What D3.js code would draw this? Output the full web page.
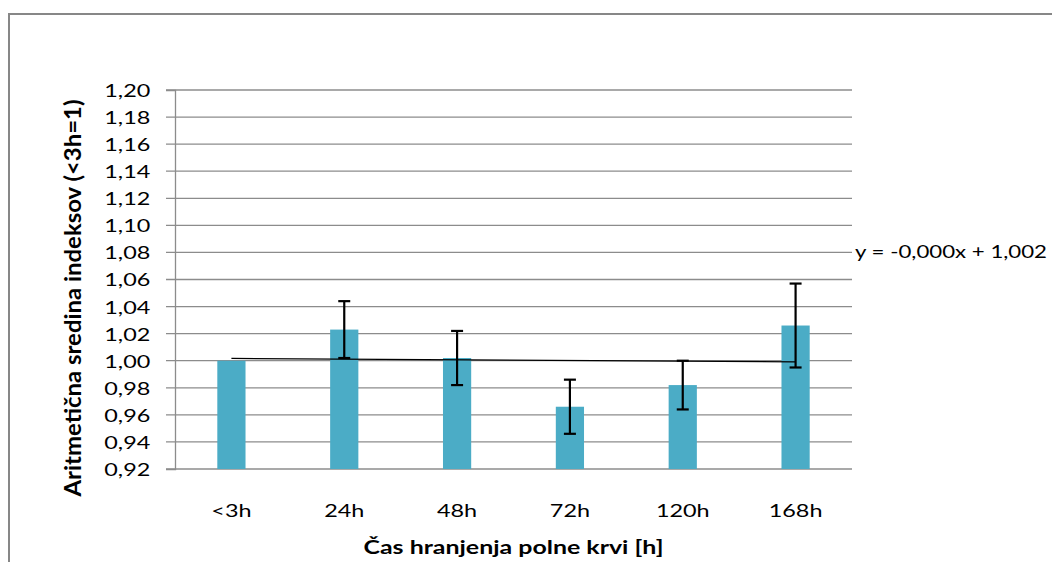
<!DOCTYPE html>
<html lang="sl">
<head>
    <meta charset="UTF-8">
    <title>Čas hranjenja polne krvi</title>
    <script src="https://d3js.org/d3.v7.min.js"></script>
    <style>
        body { margin: 0; background: #fff; }
        text { font-family: Lato, "Open Sans", sans-serif; fill: #000; }
    </style>
</head>
<body>

<svg width="1052" height="562"></svg>
<script>

    // chart values
    var categories = ["<3h", "24h", "48h", "72h", "120h", "168h"];
    var means = [1.000, 1.023, 1.002, 0.966, 0.982, 1.026];
    var errors = [0, 0.021, 0.020, 0.020, 0.018, 0.031];
    var yTicks = [0.92, 0.94, 0.96, 0.98, 1.00, 1.02, 1.04, 1.06, 1.08, 1.10, 1.12, 1.14, 1.16, 1.18, 1.20];
    // linear trend (x = category number 1..6), as Excel printed it
    var trendSlope = -0.0005,
        trendIntercept = 1.0022,
        trendLabel = "y = -0,000x + 1,002";

    var svg = d3.select("svg"),
        margin = {left: 175, right: 200, top: 90, bottom: 93},
        width = +svg.attr("width") - margin.left - margin.right,
        height = +svg.attr("height") - margin.top - margin.bottom,
        stretch = 1.3; // the picture's text is wide, widen ours the same

    // outer frame, cut off at right and bottom like the picture
    svg.append("rect")
        .attr("x", 9).attr("y", 14)
        .attr("width", 1200).attr("height", 700)
        .attr("fill", "none")
        .attr("stroke", "#878787")
        .attr("stroke-width", 2);

    var g = svg.append("g").attr("transform", "translate(" + margin.left + "," + margin.top + ")");

    var x = d3.scaleBand().domain(categories).range([0, width]);
    var y = d3.scaleLinear().domain([0.92, 1.20]).range([height, 0]);
    var fmt = function (d) { return d3.format(".2f")(d).replace(".", ","); };

    // gridlines
    g.selectAll(".grid")
        .data(yTicks)
        .enter().append("line")
        .attr("x1", -9).attr("x2", width)
        .attr("y1", function (d) { return y(d); })
        .attr("y2", function (d) { return y(d); })
        .attr("stroke", "#8c8c8c")
        .attr("stroke-width", 1.3);

    // y axis
    var yAxis = g.append("g")
        .call(d3.axisLeft(y).tickValues(yTicks).tickFormat(fmt).tickSize(9).tickPadding(10));
    yAxis.select(".domain").attr("stroke", "#8c8c8c").attr("stroke-width", 1.3);
    yAxis.selectAll(".tick line").remove();
    yAxis.selectAll("text")
        .style("font-size", "18px")
        .attr("dy", "0.36em")
        .attr("transform", "scale(" + stretch + ",1)");

    // x axis labels
    var xAxis = g.append("g").attr("transform", "translate(0," + height + ")")
        .call(d3.axisBottom(x).tickSize(0).tickPadding(35));
    xAxis.select(".domain").remove();
    xAxis.selectAll("text")
        .style("font-size", "18px")
        .attr("transform", "scale(" + stretch + ",1)");

    // bars
    var barW = x.bandwidth() * 0.25;
    g.selectAll(".bar")
        .data(means)
        .enter().append("rect")
        .attr("x", function (d, i) { return x(categories[i]) + x.bandwidth() / 2 - barW / 2; })
        .attr("y", function (d) { return y(d); })
        .attr("width", barW)
        .attr("height", function (d) { return height - y(d); })
        .attr("fill", "#4bacc6");

    // trend line from first to last category
    var n = categories.length;
    g.append("line")
        .attr("x1", x(categories[0]) + x.bandwidth() / 2)
        .attr("x2", x(categories[n - 1]) + x.bandwidth() / 2)
        .attr("y1", y(trendIntercept + trendSlope * 1))
        .attr("y2", y(trendIntercept + trendSlope * n))
        .attr("stroke", "#000")
        .attr("stroke-width", 1.3);

    // error bars
    var err = g.selectAll(".err")
        .data(means.map(function (m, i) { return {c: categories[i], m: m, e: errors[i]}; })
            .filter(function (d) { return d.e > 0; }))
        .enter().append("g")
        .attr("stroke", "#000")
        .attr("stroke-width", 2.2);
    err.append("line")
        .attr("x1", function (d) { return x(d.c) + x.bandwidth() / 2; })
        .attr("x2", function (d) { return x(d.c) + x.bandwidth() / 2; })
        .attr("y1", function (d) { return y(d.m + d.e); })
        .attr("y2", function (d) { return y(d.m - d.e); });
    [1, -1].forEach(function (s) {
        err.append("line")
            .attr("x1", function (d) { return x(d.c) + x.bandwidth() / 2 - 6; })
            .attr("x2", function (d) { return x(d.c) + x.bandwidth() / 2 + 6; })
            .attr("y1", function (d) { return y(d.m + s * d.e); })
            .attr("y2", function (d) { return y(d.m + s * d.e); });
    });

    // trend equation
    svg.append("text")
        .attr("x", 855).attr("y", 258)
        .attr("textLength", 192).attr("lengthAdjust", "spacingAndGlyphs")
        .style("font-size", "18px")
        .text(trendLabel);

    // axis titles
    svg.append("text")
        .attr("transform", "translate(81,298) scale(1.25,1) rotate(-90)")
        .attr("text-anchor", "middle")
        .attr("textLength", 397).attr("lengthAdjust", "spacingAndGlyphs")
        .style("font-size", "19px").style("font-weight", "bold")
        .text("Aritmetična sredina indeksov (<3h=1)");

    svg.append("text")
        .attr("x", margin.left + width / 2).attr("y", 554)
        .attr("text-anchor", "middle")
        .attr("textLength", 300).attr("lengthAdjust", "spacingAndGlyphs")
        .style("font-size", "19px").style("font-weight", "bold")
        .text("Čas hranjenja polne krvi [h]");

</script>

</body>
</html>
